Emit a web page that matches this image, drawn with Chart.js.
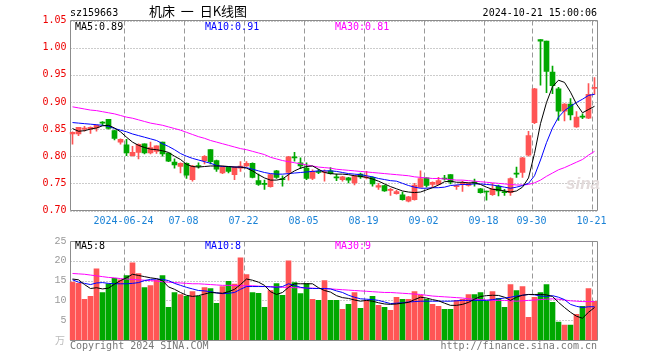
<!DOCTYPE html>
<html>
<head>
<meta charset="utf-8">
<script src="https://cdn.jsdelivr.net/npm/chart.js@4.4.1/dist/chart.umd.min.js"></script>
<style>
    body { margin: 0; background: #fff; }
    #wrap { position: relative; width: 660px; height: 360px; overflow: hidden; font-family: "DejaVu Sans Mono", monospace; font-size: 10px; }
    #priceChart { position: absolute; left: 0; top: 0; }
    #volChart { position: absolute; left: 0; top: 232px; }
    .txt { position: absolute; white-space: pre; line-height: 12px; }
</style>
</head>
<body>
<div id="wrap">
    <canvas id="priceChart" width="660" height="232"></canvas>
    <canvas id="volChart" width="660" height="128"></canvas>

    <div class="txt" style="left:70px; top:7px; color:#000;">sz159663</div>
    <div class="txt" style="left:149px; top:4px; font-family:'Noto Sans CJK SC'; font-size:13px; line-height:14px; color:#000;">机床  一  日K线图</div>
    <div class="txt" style="right:63px; top:7px; color:#000;">2024-10-21 15:00:06</div>

    <div class="txt" style="left:75px; top:21px; color:#000;">MA5:0.89</div>
    <div class="txt" style="left:205px; top:21px; color:#0000ff;">MA10:0.91</div>
    <div class="txt" style="left:335px; top:21px; color:#ff00ff;">MA30:0.81</div>

    <div class="txt" style="left:75px; top:240px; color:#000;">MA5:8</div>
    <div class="txt" style="left:205px; top:240px; color:#0000ff;">MA10:8</div>
    <div class="txt" style="left:335px; top:240px; color:#ff00ff;">MA30:9</div>

    <div class="txt" style="left:566px; top:175px; font-family:'Liberation Sans'; font-style:italic; font-weight:bold; font-size:17px; line-height:18px; color:#e2dada;">sina</div>

    <div class="txt" style="left:55px; top:334px; font-family:'Noto Sans CJK SC'; font-size:10px; color:#bbb;">万</div>
    <div class="txt" style="left:70px; top:340px; color:#777;">Copyright 2024 SINA.COM</div>
    <div class="txt" style="right:63px; top:340px; color:#777;">http://finance.sina.com.cn</div>
</div>

<script>
// Daily K-line data, 2024-06-11 .. 2024-10-21
const dates = [
    '2024-06-11','2024-06-12','2024-06-13','2024-06-14','2024-06-17','2024-06-18','2024-06-19','2024-06-20','2024-06-21',
    '2024-06-24','2024-06-25','2024-06-26','2024-06-27','2024-06-28',
    '2024-07-01','2024-07-02','2024-07-03','2024-07-04','2024-07-05',
    '2024-07-08','2024-07-09','2024-07-10','2024-07-11','2024-07-12',
    '2024-07-15','2024-07-16','2024-07-17','2024-07-18','2024-07-19',
    '2024-07-22','2024-07-23','2024-07-24','2024-07-25','2024-07-26',
    '2024-07-29','2024-07-30','2024-07-31','2024-08-01','2024-08-02',
    '2024-08-05','2024-08-06','2024-08-07','2024-08-08','2024-08-09',
    '2024-08-12','2024-08-13','2024-08-14','2024-08-15','2024-08-16',
    '2024-08-19','2024-08-20','2024-08-21','2024-08-22','2024-08-23',
    '2024-08-26','2024-08-27','2024-08-28','2024-08-29','2024-08-30',
    '2024-09-02','2024-09-03','2024-09-04','2024-09-05','2024-09-06',
    '2024-09-09','2024-09-10','2024-09-11','2024-09-12','2024-09-13',
    '2024-09-18','2024-09-19','2024-09-20',
    '2024-09-23','2024-09-24','2024-09-25','2024-09-26','2024-09-27',
    '2024-09-30',
    '2024-10-08','2024-10-09','2024-10-10','2024-10-11',
    '2024-10-14','2024-10-15','2024-10-16','2024-10-17','2024-10-18',
    '2024-10-21'
];

const opens = [0.841,0.841,0.850,0.850,0.852,0.862,0.868,0.847,0.826,0.821, 0.801,0.807,0.823,0.806,0.809,0.826,0.806,0.789,0.781,0.787,
    0.757,0.782,0.792,0.812,0.792,0.769,0.780,0.766,0.778,0.782, 0.787,0.755,0.749,0.744,0.773,0.758,0.770,0.798,0.788,0.778,
    0.759,0.772,0.770,0.773,0.761,0.757,0.760,0.751,0.767,0.760, 0.761,0.743,0.746,0.737,0.731,0.729,0.717,0.720,0.743,0.760,
    0.748,0.748,0.759,0.766,0.744,0.749,0.746,0.752,0.740,0.735, 0.729,0.745,0.735,0.733,0.768,0.770,0.802,0.862,1.015,1.012,
    0.955,0.924,0.883,0.896,0.854,0.873,0.870,0.925];
const highs = [0.845,0.853,0.855,0.854,0.858,0.864,0.868,0.848,0.832,0.831, 0.818,0.823,0.823,0.826,0.819,0.826,0.806,0.795,0.788,0.788,
    0.783,0.788,0.801,0.812,0.793,0.782,0.781,0.781,0.790,0.790, 0.788,0.767,0.756,0.767,0.774,0.764,0.800,0.807,0.797,0.788,
    0.775,0.776,0.775,0.779,0.767,0.763,0.761,0.765,0.769,0.772, 0.762,0.750,0.747,0.741,0.737,0.734,0.726,0.750,0.773,0.760,
    0.753,0.761,0.765,0.766,0.747,0.754,0.751,0.758,0.741,0.736, 0.750,0.747,0.739,0.760,0.780,0.798,0.846,0.925,1.015,1.012,
    0.966,0.927,0.897,0.906,0.882,0.878,0.934,0.945];
const lows = [0.822,0.838,0.846,0.842,0.846,0.857,0.850,0.830,0.822,0.801, 0.800,0.795,0.804,0.804,0.805,0.800,0.790,0.778,0.769,0.759,
    0.754,0.778,0.786,0.786,0.772,0.768,0.769,0.757,0.772,0.781, 0.760,0.746,0.739,0.743,0.759,0.745,0.756,0.791,0.777,0.757,
    0.757,0.768,0.754,0.767,0.755,0.754,0.751,0.747,0.759,0.758, 0.745,0.739,0.735,0.728,0.730,0.719,0.716,0.719,0.743,0.743,
    0.744,0.747,0.756,0.749,0.739,0.735,0.745,0.745,0.732,0.719, 0.728,0.727,0.728,0.728,0.761,0.761,0.800,0.860,0.931,0.917,
    0.915,0.866,0.865,0.867,0.853,0.869,0.869,0.914];
const closes = [0.844,0.853,0.851,0.853,0.857,0.861,0.851,0.833,0.831,0.806, 0.807,0.822,0.806,0.816,0.819,0.804,0.791,0.784,0.787,0.765,
    0.782,0.781,0.800,0.790,0.776,0.780,0.772,0.780,0.782,0.787, 0.761,0.748,0.748,0.766,0.761,0.757,0.799,0.797,0.782,0.759,
    0.772,0.770,0.771,0.768,0.760,0.762,0.756,0.764,0.762,0.761, 0.749,0.746,0.736,0.738,0.735,0.720,0.725,0.747,0.759,0.746,
    0.752,0.755,0.758,0.752,0.745,0.751,0.750,0.751,0.733,0.734, 0.740,0.736,0.733,0.759,0.767,0.797,0.838,0.924,1.012,0.956,
    0.930,0.883,0.896,0.876,0.872,0.872,0.914,0.927];

// price moving averages as drawn
const ma5 = [0.851,0.846,0.847,0.850,0.852,0.856,0.857,0.852,0.845,0.835, 0.826,0.820,0.816,0.813,0.812,0.810,0.807,0.800,0.794,0.785,
    0.781,0.780,0.781,0.782,0.782,0.782,0.781,0.780,0.780,0.778, 0.773,0.766,0.760,0.756,0.756,0.758,0.766,0.773,0.778,0.781,
    0.782,0.776,0.770,0.768,0.767,0.767,0.766,0.764,0.763,0.761, 0.758,0.754,0.749,0.744,0.740,0.736,0.734,0.733,0.734,0.738,
    0.742,0.747,0.753,0.754,0.752,0.752,0.751,0.751,0.748,0.743, 0.739,0.738,0.736,0.734,0.736,0.743,0.760,0.805,0.860,0.899,
    0.928,0.940,0.936,0.918,0.896,0.880,0.886,0.892];
const ma10 = [0.862,0.861,0.860,0.859,0.858,0.857,0.855,0.851,0.848,0.845, 0.841,0.838,0.835,0.832,0.829,0.823,0.818,0.812,0.805,0.800,
    0.796,0.793,0.790,0.787,0.783,0.781,0.781,0.780,0.780,0.779, 0.776,0.773,0.770,0.768,0.767,0.767,0.768,0.769,0.770,0.771,
    0.772,0.773,0.773,0.773,0.772,0.770,0.768,0.767,0.766,0.764, 0.762,0.759,0.757,0.755,0.754,0.750,0.746,0.743,0.741,0.741,
    0.742,0.742,0.743,0.746,0.747,0.748,0.748,0.749,0.749,0.748, 0.747,0.745,0.743,0.741,0.743,0.746,0.750,0.764,0.793,0.825,
    0.852,0.872,0.884,0.892,0.899,0.905,0.912,0.914];
const ma30 = [0.891,0.889,0.887,0.885,0.884,0.882,0.880,0.878,0.875,0.872, 0.870,0.867,0.864,0.861,0.859,0.857,0.854,0.851,0.848,0.844,
    0.840,0.836,0.833,0.829,0.826,0.823,0.820,0.817,0.814,0.812, 0.809,0.806,0.803,0.798,0.795,0.792,0.790,0.788,0.786,0.784,
    0.782,0.780,0.779,0.778,0.776,0.775,0.774,0.773,0.772,0.771, 0.770,0.769,0.768,0.767,0.766,0.765,0.764,0.762,0.761,0.760,
    0.759,0.759,0.758,0.757,0.756,0.756,0.755,0.754,0.753,0.752, 0.751,0.750,0.749,0.748,0.747,0.747,0.748,0.751,0.756,0.763,
    0.769,0.775,0.779,0.784,0.789,0.794,0.802,0.809];

// volume (万) and its moving averages
const volumes = [14.6,14.3,10.25,11.0,18.0,12.0,14.2,15.6,15.2,16.25, 19.5,16.75,13.25,13.75,15.1,16.25,8.25,12.0,11.5,11.0,
    12.25,11.0,13.25,13.0,9.25,13.5,14.8,14.1,20.75,16.5, 12.0,11.8,8.25,12.5,14.25,11.25,20.0,14.5,11.75,14.25,
    10.25,10.0,15.0,10.0,10.0,7.75,9.0,12.0,8.0,10.0, 11.0,8.75,8.25,7.5,10.75,10.25,10.25,12.25,11.25,10.25,
    9.0,8.5,7.75,7.75,10.0,10.25,11.5,11.5,12.0,9.75, 12.25,10.5,8.25,14.0,12.5,13.5,5.75,10.75,12.0,14.0,
    9.5,4.5,3.75,3.75,6.5,8.5,13.0,9.75];
const vma5 = [15.4,15.2,14.0,13.0,13.2,12.9,13.1,14.1,15.0,15.7, 16.6,16.3,16.0,15.7,15.5,15.0,13.4,12.8,12.0,11.3,
    11.0,11.2,11.6,12.0,11.9,11.8,12.2,12.8,14.0,15.4, 15.1,14.6,13.8,12.2,11.5,12.0,13.3,14.2,14.2,14.2,
    14.2,13.2,12.5,12.1,11.2,10.7,10.5,10.1,9.8,10.0, 9.8,9.4,9.1,9.0,9.1,9.3,9.5,10.2,10.8,10.6,
    10.2,9.9,9.3,8.75,8.75,9.0,9.5,10.3,11.0,11.2, 11.3,11.25,10.8,10.0,10.8,11.3,11.5,11.5,11.5,11.4,
    11.0,9.5,8.2,7.0,6.0,5.5,7.0,8.2];
const vma10 = [15.2,14.6,14.3,14.0,14.4,14.5,14.3,14.2,14.2,14.2, 14.3,14.5,15.0,15.3,15.4,15.3,15.0,14.3,13.8,13.3,
    12.9,12.5,12.4,12.2,11.9,11.7,11.8,12.0,12.8,13.5, 13.5,13.5,13.5,13.4,13.3,13.5,14.2,13.8,13.3,13.1,
    13.0,13.0,13.0,12.9,12.4,12.0,11.3,10.8,10.4,10.3, 10.2,10.0,9.6,9.2,9.3,9.4,9.6,9.7,9.8,9.8,
    9.8,9.8,9.8,9.8,9.9,10.0,10.0,10.0,10.0,10.0, 10.2,10.4,10.6,10.8,11.1,11.3,11.5,11.4,11.1,11.0,
    11.2,10.8,10.2,9.0,8.5,8.2,8.4,8.4];
const vma30 = [16.8,16.7,16.6,16.4,16.2,16.0,15.8,15.7,15.5,15.4, 15.3,15.2,15.1,15.0,14.9,14.7,14.6,14.5,14.4,14.3,
    14.2,14.2,14.1,14.0,13.9,13.8,13.8,13.8,13.7,13.7, 13.7,13.6,13.5,13.5,13.4,13.3,13.3,13.2,13.2,13.1,
    13.1,13.0,13.0,12.9,12.8,12.7,12.6,12.5,12.4,12.3, 12.2,12.1,12.0,12.0,11.9,11.8,11.7,11.6,11.5,11.3,
    11.1,11.0,10.9,10.8,10.7,10.6,10.4,10.3,10.2,10.1, 10.0,10.0,10.0,9.9,9.8,9.9,10.0,10.1,10.2,10.3,
    10.4,10.3,10.1,9.9,9.8,9.7,9.7,9.7];

// x axis marks
const markDates = ['2024-06-24','2024-07-08','2024-07-22','2024-08-05','2024-08-19','2024-09-02','2024-09-18','2024-09-30','2024-10-21'];
const markLabels = ['2024-06-24','07-08','07-22','08-05','08-19','09-02','09-18','09-30','10-21'];
const priceTicks = [0.70, 0.75, 0.80, 0.85, 0.90, 0.95, 1.00, 1.05];
const volTicks = [0, 5, 10, 15, 20, 25];

const UP = '#ff5555';
const DOWN = '#00a800';
const GRID = '#999999';
const FRAME = '#8c8c8c';
const MONO = '"DejaVu Sans Mono", monospace';

Chart.defaults.font.family = MONO;
Chart.defaults.font.size = 10;

const barColor = ctx => (closes[ctx.dataIndex] >= opens[ctx.dataIndex] ? UP : DOWN);
const markIdx = markDates.map(d => dates.indexOf(d));

// dotted value grid, dashed date grid and the grey frame, placed from the chart's own scales
function drawPanel(chart) {
    const a = chart.chartArea;
    const c = chart.ctx;
    const xs = chart.scales.x;
    const ys = chart.scales.y;
    const half = (xs.getPixelForValue(1) - xs.getPixelForValue(0)) / 2;
    const l = Math.round(a.left) + 0.5;
    const r = Math.floor(a.right) + 0.5;
    const t = Math.floor(a.top) + 0.5;
    const b = Math.floor(a.bottom) + 0.5;

    c.save();
    c.lineWidth = 1;
    c.strokeStyle = GRID;
    c.setLineDash([1, 2]);
    c.beginPath();
    ys.ticks.forEach(tk => {
        const py = Math.round(ys.getPixelForValue(tk.value)) + 0.5;
        c.moveTo(l, py);
        c.lineTo(r, py);
    });
    c.stroke();

    c.setLineDash([5, 3]);
    c.beginPath();
    markIdx.forEach(i => {
        const px = Math.round(xs.getPixelForValue(i) - half) + 0.5;
        c.moveTo(px, t);
        c.lineTo(px, b);
    });
    c.stroke();

    c.setLineDash([]);
    c.strokeStyle = FRAME;
    c.beginPath();
    c.rect(l, t, r - l, b - t);
    c.stroke();
    c.restore();
}

const panelPlugin = {
    id: 'panelFrame',
    beforeDatasetsDraw(chart) {
        drawPanel(chart);
    }
};

function maLine(data, color) {
    return {
        type: 'line',
        data: data,
        borderColor: color,
        borderWidth: 1,
        pointRadius: 0,
        tension: 0,
        fill: false,
        order: 0
    };
}

function xScale(showLabels, height) {
    return {
        offset: true,
        grid: { display: false, drawTicks: false },
        border: { display: false },
        ticks: {
            display: showLabels,
            autoSkip: false,
            maxRotation: 0,
            minRotation: 0,
            padding: 5,
            labelOffset: -3,
            color: '#1a82d6',
            callback: (v, i) => {
                const k = markDates.indexOf(dates[i]);
                return k < 0 ? '' : markLabels[k];
            }
        },
        afterFit: axis => { axis.height = height; }
    };
}

const baseOptions = {
    responsive: false,
    animation: false,
    events: [],
    plugins: { legend: { display: false }, tooltip: { enabled: false } }
};

// Price panel
const priceChart = new Chart(document.getElementById('priceChart'), {
    type: 'bar',
    data: {
        labels: dates,
        datasets: [
            maLine(ma5, '#000000'),
            maLine(ma10, '#0000ff'),
            maLine(ma30, '#ff00ff'),
            {
                // wicks
                data: lows.map((l, i) => [l, highs[i]]),
                backgroundColor: barColor,
                barThickness: 1,
                grouped: false,
                order: 2
            },
            {
                // bodies
                data: opens.map((o, i) => [o, closes[i]]),
                backgroundColor: barColor,
                barThickness: 5,
                minBarLength: 1,
                grouped: false,
                order: 1
            }
        ]
    },
    options: {
        ...baseOptions,
        layout: { padding: { top: 20.5, right: 62.5, left: 0, bottom: 0 } },
        scales: {
            x: xScale(true, 21.5),
            y: {
                min: priceTicks[0],
                max: priceTicks[priceTicks.length - 1],
                afterBuildTicks: axis => { axis.ticks = priceTicks.map(v => ({ value: v })); },
                grid: { display: false, drawTicks: false },
                border: { display: false },
                ticks: { color: '#ee0000', padding: 3, callback: v => v.toFixed(2) },
                afterFit: axis => { axis.width = 69.5; }
            }
        }
    },
    plugins: [panelPlugin]
});

// Volume panel
const volChart = new Chart(document.getElementById('volChart'), {
    type: 'bar',
    data: {
        labels: dates,
        datasets: [
            maLine(vma5, '#000000'),
            maLine(vma10, '#0000ff'),
            maLine(vma30, '#ff00ff'),
            {
                data: volumes,
                backgroundColor: barColor,
                barThickness: 5,
                grouped: false,
                order: 1
            }
        ]
    },
    options: {
        ...baseOptions,
        layout: { padding: { top: 8, right: 62.5, left: 0, bottom: 20 } },
        scales: {
            x: xScale(false, 0),
            y: {
                min: volTicks[0],
                max: volTicks[volTicks.length - 1],
                afterBuildTicks: axis => { axis.ticks = volTicks.map(v => ({ value: v })); },
                grid: { display: false, drawTicks: false },
                border: { display: false },
                ticks: {
                    color: '#999999',
                    padding: 3,
                    font: { family: '"Liberation Mono", monospace', size: 10 },
                    callback: v => (v === 0 ? '' : String(v))
                },
                afterFit: axis => { axis.width = 69.5; }
            }
        }
    },
    plugins: [panelPlugin]
});
</script>
</body>
</html>
